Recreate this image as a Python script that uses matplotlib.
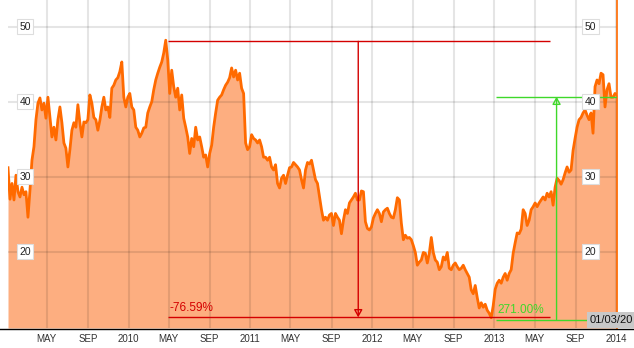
import matplotlib
matplotlib.use("Agg")
import matplotlib.pyplot as plt
import pandas as pd

# price series (roughly every 6 days, Jan 2009 - Jan 2014)
start_date = "2009-01-05"
end_date = "2014-01-03"
prices = [
    31.2, 27.0, 29.1, 26.9, 30.2, 28.0, 27.3, 28.6, 27.6, 28.0,
    24.6, 28.2, 32.2, 34.0, 37.6, 39.8, 40.5, 38.9, 39.8, 37.8,
    40.6, 37.9, 35.3, 36.6, 34.9, 37.6, 39.3, 37.2, 34.5, 33.8,
    31.3, 33.6, 36.2, 37.2, 36.6, 39.6, 37.2, 35.3, 37.3, 37.2,
    37.6, 40.9, 39.8, 37.9, 37.6, 36.2, 37.5, 39.3, 40.6, 38.9,
    39.3, 37.9, 41.8, 42.2, 42.9, 43.2, 44.0, 45.3, 40.6, 39.3,
    40.6, 41.1, 39.3, 38.9, 36.6, 36.2, 35.3, 35.8, 36.5, 36.6,
    38.5, 39.3, 40.0, 41.6, 42.9, 43.8, 44.6, 45.3, 46.5, 48.2,
    45.6, 41.1, 44.2, 42.0, 40.6, 41.8, 38.9, 40.9, 37.8, 36.6,
    35.3, 33.1, 35.1, 34.0, 36.6, 34.9, 35.3, 34.0, 32.6, 32.9,
    31.3, 33.1, 34.2, 36.6, 38.5, 40.2, 40.6, 40.9, 41.6, 42.2,
    42.6, 43.2, 44.5, 43.3, 44.2, 42.9, 43.8, 41.8, 41.1, 34.5,
    33.6, 34.0, 35.6, 35.1, 34.9, 34.5, 34.9, 34.0, 32.6, 32.6,
    32.2, 32.6, 31.3, 30.9, 31.6, 29.1, 28.5, 29.8, 30.2, 29.1,
    30.2, 31.2, 31.3, 31.9, 31.6, 31.3, 30.9, 29.6, 28.5, 30.9,
    31.9, 31.7, 32.2, 30.9, 29.6, 29.1, 27.3, 25.6, 24.2, 24.6,
    24.2, 24.9, 25.1, 23.5, 25.1, 24.6, 24.2, 22.4, 24.2, 25.6,
    25.1, 26.5, 26.9, 27.3, 27.8, 26.9, 26.9, 28.1, 28.0, 24.0,
    23.1, 22.9, 23.3, 24.5, 25.1, 25.6, 25.1, 24.0, 25.3, 25.6,
    25.8, 25.1, 24.6, 24.5, 25.6, 27.2, 26.9, 23.8, 21.6, 22.2,
    21.8, 21.9, 21.6, 20.8, 19.9, 18.2, 18.6, 18.9, 19.9, 19.8,
    18.5, 19.8, 21.9, 19.9, 18.9, 18.6, 17.6, 18.0, 19.3, 18.9,
    19.9, 17.8, 17.6, 18.2, 18.5, 18.0, 17.6, 17.8, 18.2, 17.6,
    17.1, 16.6, 14.9, 14.4, 15.5, 13.9, 12.5, 13.2, 12.6, 13.0,
    12.2, 11.8, 11.2, 12.8, 15.0, 15.8, 16.2, 15.8, 16.6, 17.1,
    16.2, 17.1, 17.6, 19.8, 21.2, 22.5, 22.4, 23.0, 25.6, 25.1,
    23.5, 24.2, 25.6, 26.0, 26.5, 26.0, 26.5, 26.9, 27.3, 26.9,
    27.8, 27.3, 28.0, 26.2, 28.6, 29.8, 29.5, 29.0, 29.6, 30.5,
    31.3, 30.6, 30.9, 33.5, 35.1, 36.6, 37.6, 37.9, 38.5, 38.9,
    38.2, 37.6, 38.5, 35.8, 42.0, 42.9, 42.4, 43.8, 43.6, 39.3,
    41.6, 42.4, 40.6, 40.6, 41.1, 40.9,
]
dates = pd.date_range(start_date, end_date, periods=len(prices))

y_ticks = [20, 30, 40, 50]
x_ticks = pd.to_datetime([
    "2009-05-01", "2009-09-01", "2010-01-01", "2010-05-01", "2010-09-01",
    "2011-01-01", "2011-05-01", "2011-09-01", "2012-01-01", "2012-05-01",
    "2012-09-01", "2013-01-01", "2013-05-01", "2013-09-01", "2014-01-01",
])
x_labels = ["MAY", "SEP", "2010", "MAY", "SEP", "2011", "MAY", "SEP", "2012",
            "MAY", "SEP", "2013", "MAY", "SEP", "2014"]

# drawdown / rebound annotations
drop_label = "-76.59%"
drop_top = 48.05
drop_bottom = 11.25
drop_start = pd.Timestamp("2010-04-28")
drop_end = pd.Timestamp("2013-06-15")
drop_arrow = pd.Timestamp("2011-11-20")

rise_label = "271.00%"
rise_bottom = 10.96
rise_top = 40.67
rise_start = pd.Timestamp("2013-01-05")
rise_arrow = pd.Timestamp("2013-07-06")
last_date_label = "01/03/20"

RED = "#d40000"
GREEN = "#3fd82a"
LINE = "#ff6a00"
FILL = "#fdae80"

W, H = 634, 348
fig = plt.figure(figsize=(W / 100, H / 100), dpi=100)
ax = fig.add_axes([8 / W, (H - 328) / H, (617 - 8) / W, 328 / H])
ymin, ymax = 9.83, 53.56

ax.fill_between(dates, prices, ymin, color=FILL, lw=0, zorder=1)
ax.plot(dates, prices, color=LINE, lw=2, zorder=3)
ax.axvline(dates[-1], color=LINE, lw=1.2, zorder=3, clip_on=False)

ax.set_xlim(dates[0], dates[-1])
ax.set_ylim(ymin, ymax)
ax.set_yticks(y_ticks)
ax.set_xticks(x_ticks)
ax.set_xticklabels(x_labels, fontsize=7, color="#333333", family="Liberation Sans")
ax.tick_params(length=0)
ax.tick_params(axis="x", pad=4)
ax.tick_params(axis="y", labelleft=False)
ax.grid(True, color="black", alpha=0.1, lw=1.5)
for s in ax.spines.values():
    s.set_visible(False)
ax.patch.set_alpha(0)

# y labels in little white boxes, both sides
for v in y_ticks:
    for xa in (0.028, 0.956):
        ax.text(xa, v, str(v), transform=ax.get_yaxis_transform(), ha="center",
                va="center", fontsize=7.5, color="#222222", family="Liberation Sans",
                zorder=5,
                bbox=dict(boxstyle="square,pad=0.25", fc="white", ec="#dddddd", lw=0.8))

# red drawdown
ax.hlines(drop_top, drop_start, drop_end, color=RED, lw=1, zorder=4)
ax.hlines(drop_bottom, drop_start, drop_end, color=RED, lw=1, zorder=4)
ax.annotate("", xy=(drop_arrow, drop_bottom), xytext=(drop_arrow, drop_top),
            arrowprops=dict(arrowstyle="-|>,head_width=0.25,head_length=0.45",
                            ec=RED, fc="none", lw=1, shrinkA=0, shrinkB=0), zorder=4)
ax.text(pd.Timestamp("2010-05-04"), drop_bottom + 0.45, drop_label, color=RED,
        fontsize=8.5, family="Liberation Sans", va="bottom", ha="left", zorder=5)

# green rebound
ax.hlines(rise_top, rise_start, dates[-1], color=GREEN, lw=1, zorder=4)
ax.hlines(rise_bottom, rise_start, dates[-1], color=GREEN, lw=1, zorder=4)
ax.annotate("", xy=(rise_arrow, rise_top), xytext=(rise_arrow, rise_bottom),
            arrowprops=dict(arrowstyle="-|>,head_width=0.25,head_length=0.45",
                            ec=GREEN, fc="none", lw=1, shrinkA=0, shrinkB=0), zorder=4)
ax.text(pd.Timestamp("2013-01-10"), rise_bottom + 0.45, rise_label, color=GREEN,
        fontsize=8.5, family="Liberation Sans", va="bottom", ha="left", zorder=5)

# bottom axis line across the whole width
fig.add_artist(plt.Line2D([0, 1], [(H - 328.5) / H] * 2, color="black", lw=1))

fig.text(590 / W, (H - 320) / H, last_date_label, fontsize=8, color="#111111",
         family="Liberation Sans", ha="left", va="center",
         bbox=dict(boxstyle="square,pad=0.3", fc="#c8c8c8", ec="none"))

fig.savefig("out.png", dpi=100)
